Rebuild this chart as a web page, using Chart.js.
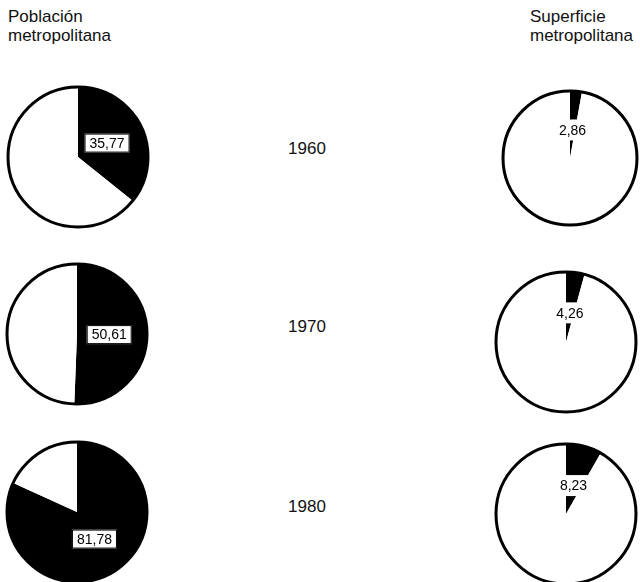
<!DOCTYPE html>
<html lang="es">
<head>
    <meta charset="UTF-8">
    <title>Población y superficie metropolitana</title>
    <script src="https://cdn.jsdelivr.net/npm/chart.js"></script>
    <style>
        body { margin: 0; background: #fff; width: 640px; height: 582px; position: relative; overflow: hidden;
               font-family: "Liberation Sans", Arial, sans-serif; color: #111; }
        .head { position: absolute; font-size: 17px; line-height: 19px; }
        .year { position: absolute; font-size: 17px; width: 60px; text-align: center; }
        .pie { position: absolute; }
    </style>
</head>
<body>
    <div class="head" style="left:8px; top:7px;">Población<br>metropolitana</div>
    <div class="head" style="left:530px; top:7px;">Superficie<br>metropolitana</div>

    <div class="year" style="left:277px; top:139px;">1960</div>
    <div class="year" style="left:277px; top:317px;">1970</div>
    <div class="year" style="left:277px; top:497px;">1980</div>

    <canvas class="pie" id="pob0" width="146" height="146" style="left:5px; top:84px;"></canvas>
    <canvas class="pie" id="pob1" width="146" height="146" style="left:4px; top:261px;"></canvas>
    <canvas class="pie" id="pob2" width="146" height="146" style="left:4px; top:439px;"></canvas>
    <canvas class="pie" id="sup0" width="140" height="140" style="left:500px; top:88px;"></canvas>
    <canvas class="pie" id="sup1" width="146" height="146" style="left:493px; top:269px;"></canvas>
    <canvas class="pie" id="sup2" width="146" height="146" style="left:493px; top:441px;"></canvas>

    <script>
        const years = ['1960', '1970', '1980'];
        const poblacion = [35.77, 50.61, 81.78];   // % of population in metro area
        const superficie = [2.86, 4.26, 8.23];     // % of surface in metro area

        function fmt(v) {
            return v.toFixed(2).replace('.', ',');
        }

        // outline of the whole circle + white label box over the black slice
        const ringAndLabel = {
            id: 'ringAndLabel',
            afterDatasetsDraw(chart, args, opts) {
                const ctx = chart.ctx;
                const arc = chart.getDatasetMeta(0).data[0];
                const value = chart.data.datasets[0].data[0];

                ctx.save();
                ctx.beginPath();
                ctx.arc(arc.x, arc.y, arc.outerRadius, 0, Math.PI * 2);
                ctx.lineWidth = 3;
                ctx.strokeStyle = '#000';
                ctx.stroke();

                const mid = (arc.startAngle + arc.endAngle) / 2;
                const lx = arc.x + Math.cos(mid) * arc.outerRadius * opts.factor;
                const ly = arc.y + Math.sin(mid) * arc.outerRadius * opts.factor;
                const text = fmt(value);
                ctx.font = '14px "Liberation Sans", Arial, sans-serif';
                const w = ctx.measureText(text).width + 10;
                const h = opts.boxed ? 19 : 21;
                ctx.fillStyle = '#fff';
                ctx.fillRect(lx - w / 2, ly - h / 2, w, h);
                if (opts.boxed) {
                    ctx.lineWidth = 1;
                    ctx.strokeStyle = '#000';
                    ctx.strokeRect(lx - w / 2 + 0.5, ly - h / 2 + 0.5, w - 1, h - 1);
                }
                ctx.fillStyle = '#000';
                ctx.textAlign = 'center';
                ctx.textBaseline = 'middle';
                ctx.fillText(text, lx, ly + 1);
                ctx.restore();
            }
        };

        function makePie(id, value, boxed, factor) {
            return new Chart(document.getElementById(id), {
                type: 'pie',
                data: {
                    labels: ['metropolitana', 'resto'],
                    datasets: [{
                        data: [value, 100 - value],
                        backgroundColor: ['#000', '#fff'],
                        borderWidth: 0,
                        hoverOffset: 0
                    }]
                },
                options: {
                    responsive: false,
                    devicePixelRatio: 1,
                    animation: false,
                    events: [],
                    layout: { padding: 3 },
                    plugins: {
                        legend: { display: false },
                        tooltip: { enabled: false },
                        ringAndLabel: { boxed: boxed, factor: factor }
                    }
                },
                plugins: [ringAndLabel]
            });
        }

        years.forEach((y, i) => {
            makePie('pob' + i, poblacion[i], true, 0.46);
            makePie('sup' + i, superficie[i], false, 0.42);
        });
    </script>
</body>
</html>
